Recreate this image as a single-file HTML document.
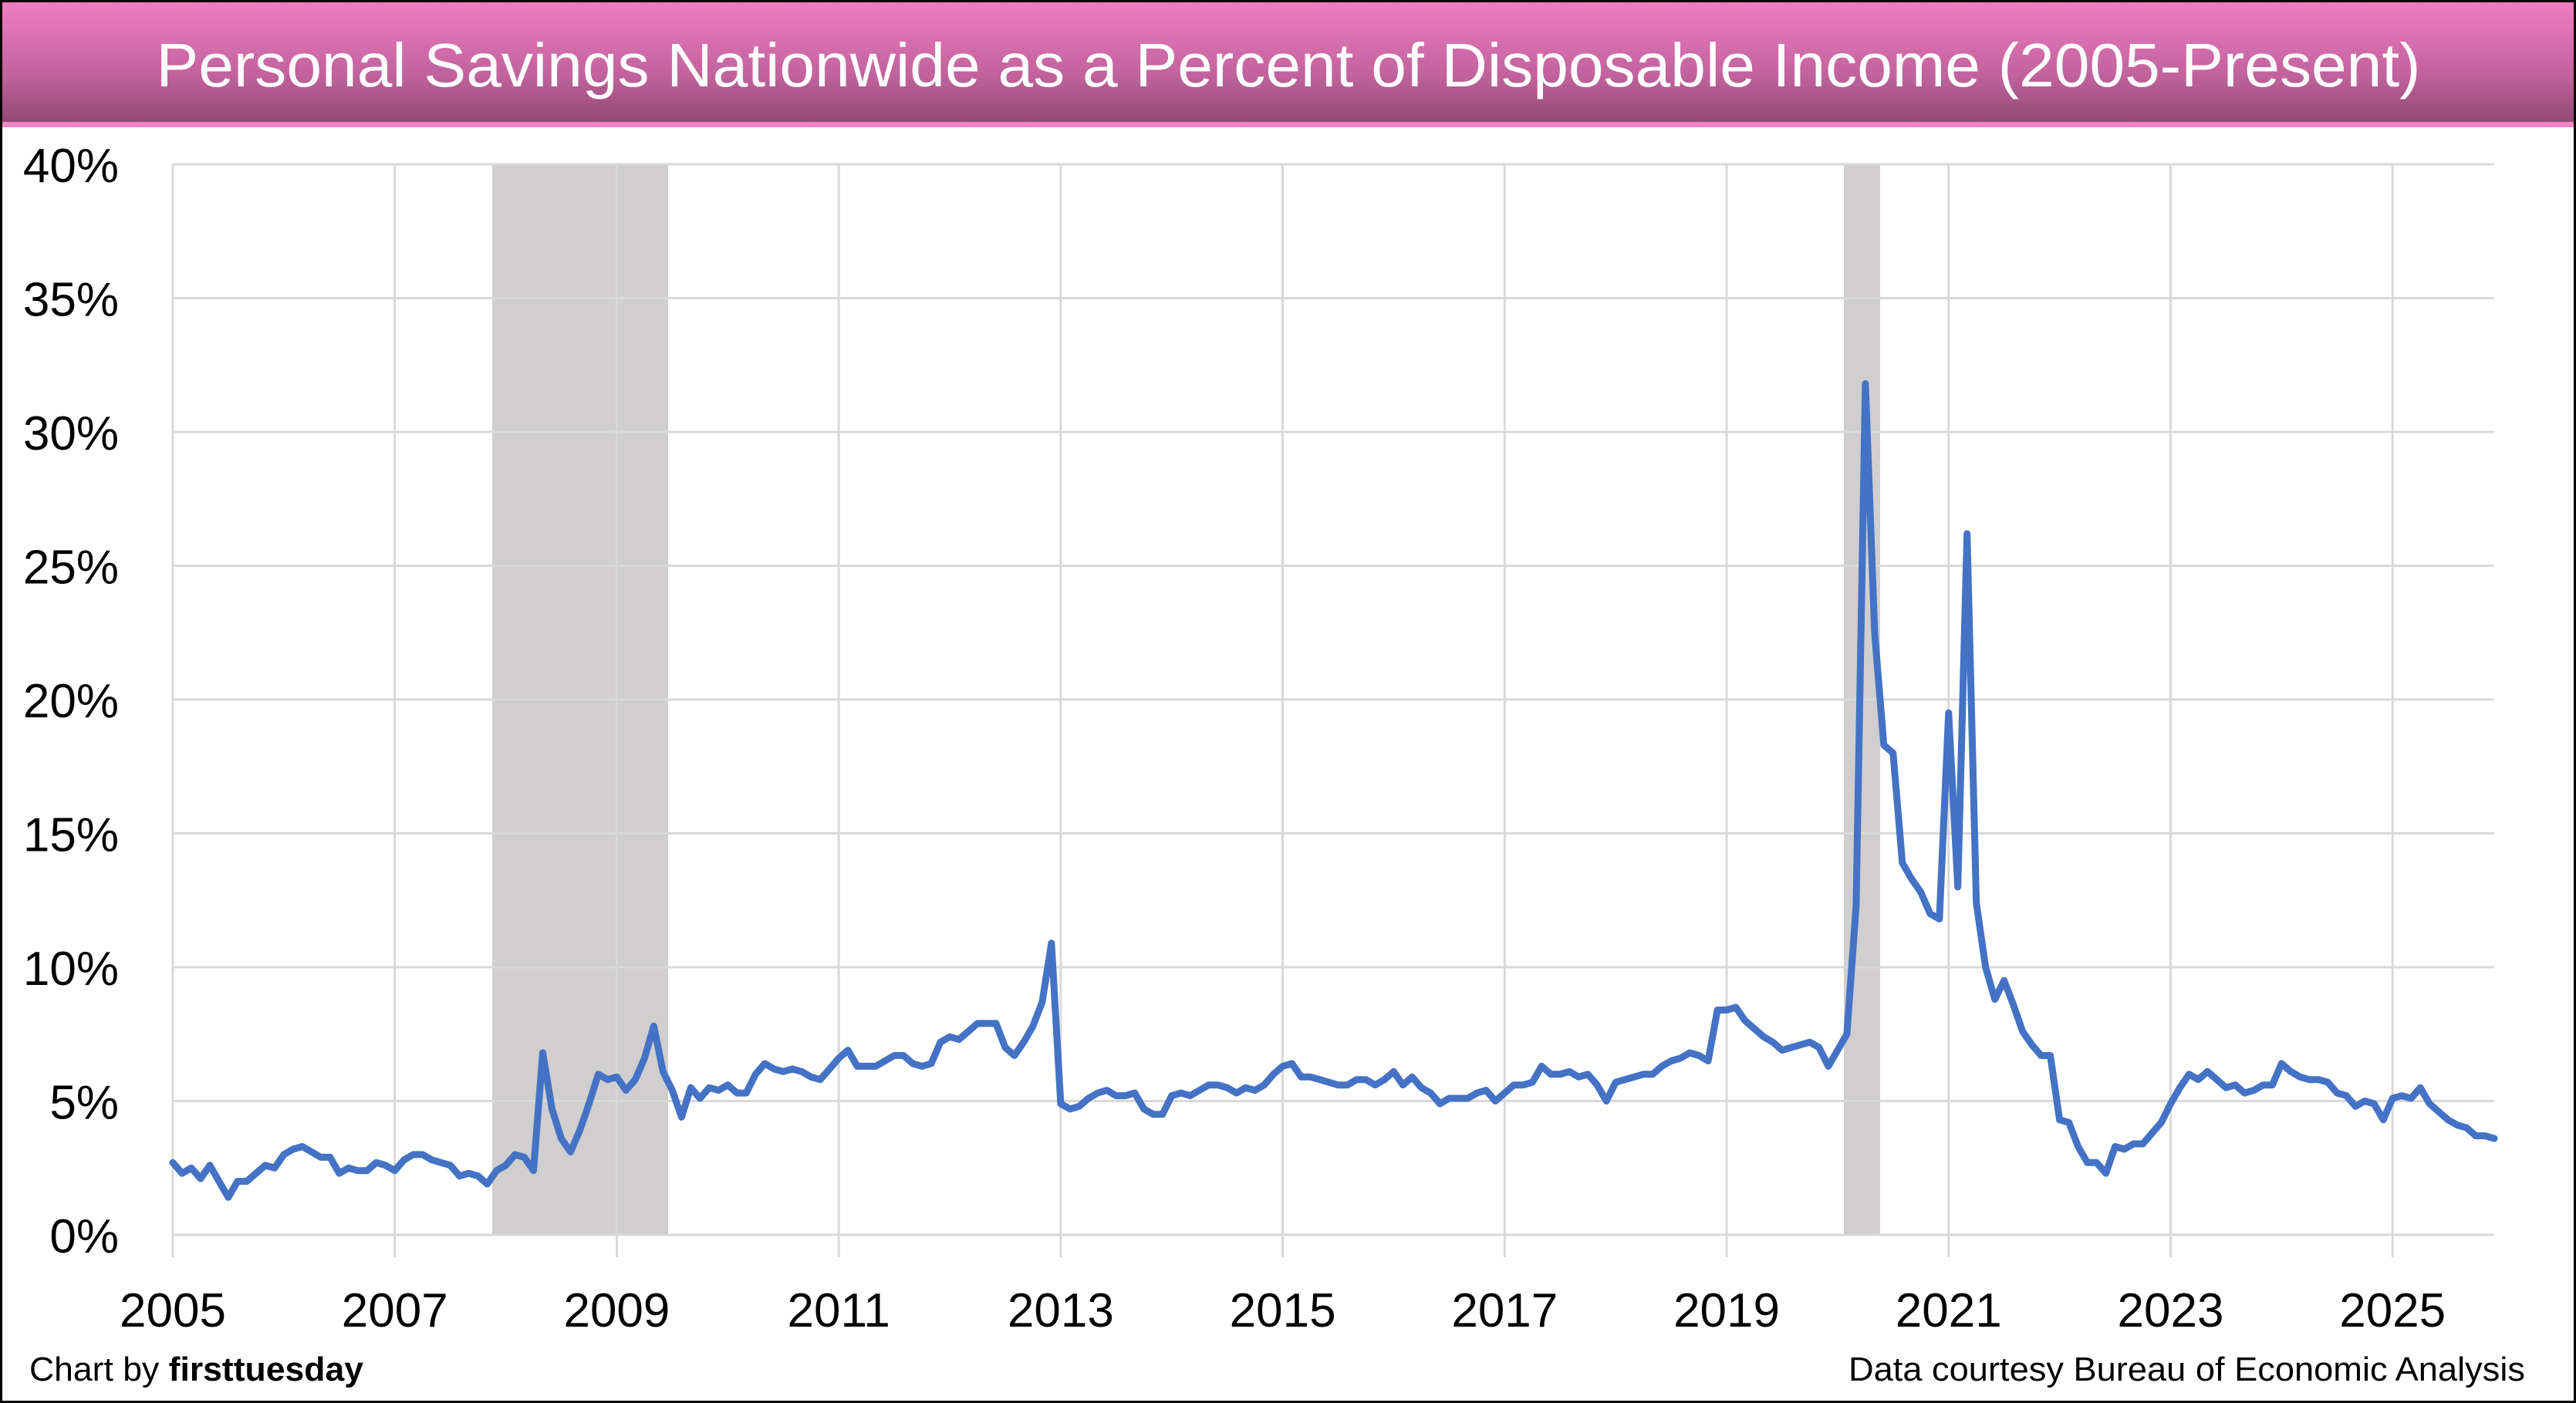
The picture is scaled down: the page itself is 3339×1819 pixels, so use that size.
<!DOCTYPE html>
<html><head><meta charset="utf-8"><style>
html,body{margin:0;padding:0;background:#fff;}
svg{display:block;}
</style></head><body>
<svg id="s" width="3339" height="1819" viewBox="0 0 3339 1819" xmlns="http://www.w3.org/2000/svg">
<defs>
<linearGradient id="g" x1="0" y1="0" x2="0" y2="1">
<stop offset="0" stop-color="#f27dc2"/>
<stop offset="0.6" stop-color="#c0629c"/>
<stop offset="1" stop-color="#8c466e"/>
</linearGradient>
</defs>
<rect x="0" y="0" width="3339" height="1819" fill="#fff"/>
<rect x="2" y="2" width="3335" height="162" fill="url(#g)"/>
<rect x="2" y="158" width="3335" height="7" fill="#ee85c4"/>
<text x="1670" y="112" fill="#fff" font-family="Liberation Sans, sans-serif" font-size="80" text-anchor="middle" textLength="2935" lengthAdjust="spacingAndGlyphs">Personal Savings Nationwide as a Percent of Disposable Income (2005-Present)</text>
<rect x="638" y="213" width="228" height="1388" fill="#d0cecf"/>
<rect x="2390" y="213" width="47" height="1388" fill="#d0cecf"/>
<g id="grid" stroke="#d9d9d9" stroke-width="3"></g>
<g id="lab" font-family="Liberation Sans, sans-serif" fill="#000"></g>
<path id="line" fill="none" stroke="#4472c4" stroke-width="9" stroke-linejoin="round" stroke-linecap="round"/>
<text x="38" y="1790" font-family="Liberation Sans, sans-serif" font-size="44" textLength="433" lengthAdjust="spacingAndGlyphs">Chart by <tspan font-weight="bold">firsttuesday</tspan></text>
<text x="3273" y="1790" font-family="Liberation Sans, sans-serif" font-size="44" text-anchor="end" textLength="877" lengthAdjust="spacingAndGlyphs">Data courtesy Bureau of Economic Analysis</text>
<rect x="1.5" y="1.5" width="3336" height="1816" fill="none" stroke="#000" stroke-width="3"/>
</svg>
<script>
var NS="http://www.w3.org/2000/svg";
var L=224,R=3233,T=213,B=1601;
var py=(B-T)/40, pyr=143.86;
function y(v){return B-v*py;}
function x(t){return L+t*pyr;}
var grid=document.getElementById('grid'),lab=document.getElementById('lab');
function ln(x1,y1,x2,y2){var e=document.createElementNS(NS,'line');e.setAttribute('x1',x1);e.setAttribute('y1',y1);e.setAttribute('x2',x2);e.setAttribute('y2',y2);grid.appendChild(e);}
function tx(xx,yy,s,anc,fs){var e=document.createElementNS(NS,'text');e.setAttribute('x',xx);e.setAttribute('y',yy);e.setAttribute('text-anchor',anc);e.setAttribute('font-size',fs);e.textContent=s;lab.appendChild(e);}
for(var p=0;p<=40;p+=5){ln(L,y(p),R,y(p));tx(154,y(p)+23,p+'%','end',62);}
for(var yr=0;yr<=20;yr+=2){ln(x(yr),T,x(yr),1630);tx(x(yr),1720,String(2005+yr),'middle',62);}
var d=[2.7,2.3,2.5,2.1,2.6,2.0,1.4,2.0,2.0,2.3,2.6,2.5,
3.0,3.2,3.3,3.1,2.9,2.9,2.3,2.5,2.4,2.4,2.7,2.6,
2.4,2.8,3.0,3.0,2.8,2.7,2.6,2.2,2.3,2.2,1.9,2.4,
2.6,3.0,2.9,2.4,6.8,4.7,3.6,3.1,3.9,4.9,6.0,5.8,
5.9,5.4,5.8,6.6,7.8,6.1,5.4,4.4,5.5,5.1,5.5,5.4,
5.6,5.3,5.3,6.0,6.4,6.2,6.1,6.2,6.1,5.9,5.8,6.2,
6.6,6.9,6.3,6.3,6.3,6.5,6.7,6.7,6.4,6.3,6.4,7.2,
7.4,7.3,7.6,7.9,7.9,7.9,7.0,6.7,7.2,7.8,8.7,10.9,
4.9,4.7,4.8,5.1,5.3,5.4,5.2,5.2,5.3,4.7,4.5,4.5,
5.2,5.3,5.2,5.4,5.6,5.6,5.5,5.3,5.5,5.4,5.6,6.0,
6.3,6.4,5.9,5.9,5.8,5.7,5.6,5.6,5.8,5.8,5.6,5.8,
6.1,5.6,5.9,5.5,5.3,4.9,5.1,5.1,5.1,5.3,5.4,5.0,
5.3,5.6,5.6,5.7,6.3,6.0,6.0,6.1,5.9,6.0,5.6,5.0,
5.7,5.8,5.9,6.0,6.0,6.3,6.5,6.6,6.8,6.7,6.5,8.4,
8.4,8.5,8.0,7.7,7.4,7.2,6.9,7.0,7.1,7.2,7.0,6.3,
6.9,7.5,12.3,31.8,22.5,18.3,18.0,13.9,13.3,12.8,12.0,11.8,
19.5,13.0,26.2,12.4,10.0,8.8,9.5,8.6,7.6,7.1,6.7,6.7,
4.3,4.2,3.3,2.7,2.7,2.3,3.3,3.2,3.4,3.4,3.8,4.2,
4.9,5.5,6.0,5.8,6.1,5.8,5.5,5.6,5.3,5.4,5.6,5.6,
6.4,6.1,5.9,5.8,5.8,5.7,5.3,5.2,4.8,5.0,4.9,4.3,
5.1,5.2,5.1,5.5,4.9,4.6,4.3,4.1,4.0,3.7,3.7,3.6];
var s='';for(var i=0;i<d.length;i++){s+=(i?'L':'M')+x(i/12).toFixed(1)+','+y(d[i]).toFixed(1);}
document.getElementById('line').setAttribute('d',s);
</script>
</body></html>
